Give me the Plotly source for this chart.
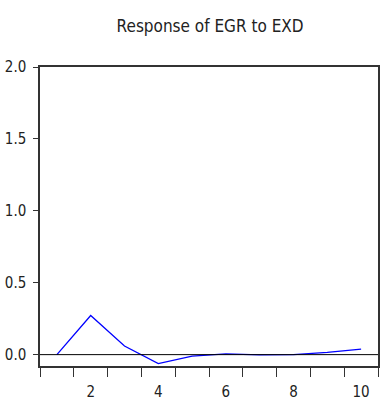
import plotly.graph_objects as go

periods = [1, 2, 3, 4, 5, 6, 7, 8, 9, 10]
response = [0.0, 0.272, 0.06, -0.062, -0.01, 0.005, -0.002, 0.0, 0.016, 0.039]
x_tick_labels = [2, 4, 6, 8, 10]
y_tick_vals = [0.0, 0.5, 1.0, 1.5, 2.0]
boundaries = [p - 0.5 for p in periods] + [periods[-1] + 0.5]

FONT = "DejaVu Sans Condensed, Liberation Sans Narrow, Liberation Sans, Arial, sans-serif"

fig = go.Figure()
fig.add_trace(go.Scatter(x=periods, y=response, mode="lines",
                         line=dict(color="#0000ff", width=1.3), showlegend=False))

fig.add_hline(y=0, line=dict(color="black", width=1))

fig.update_layout(
    width=382, height=403,
    margin=dict(l=40, r=2, t=67, b=35),
    paper_bgcolor="white", plot_bgcolor="white",
    font=dict(family=FONT, size=15, color="#222"),
    title=dict(text="Response of EGR to EXD", x=0.55, xanchor="center",
               y=1 - 26 / 403, yanchor="middle", font=dict(family=FONT, size=17, color="#222")),
    xaxis=dict(range=[0.5, 10.5], tickvals=x_tick_labels, ticktext=[str(v) for v in x_tick_labels],
               ticks="", showgrid=False, zeroline=False, ticklabelstandoff=11,
               showline=True, linecolor="#333", linewidth=1.5, mirror=True,
               minor=dict(tickvals=boundaries, ticks="outside", ticklen=9, tickcolor="#333", tickwidth=1, showgrid=False),
               tickfont=dict(family=FONT, size=15, color="#222")),
    yaxis=dict(range=[-0.079, 2.0], tickvals=y_tick_vals, ticktext=["0.0", "0.5", "1.0", "1.5", "2.0"],
               ticks="outside", ticklen=5, tickcolor="#333", tickwidth=1, ticklabelstandoff=4,
               showgrid=False, zeroline=False,
               showline=True, linecolor="#333", linewidth=1.5, mirror=True,
               tickfont=dict(family=FONT, size=15, color="#222")),
)

fig.write_html("out.html")
